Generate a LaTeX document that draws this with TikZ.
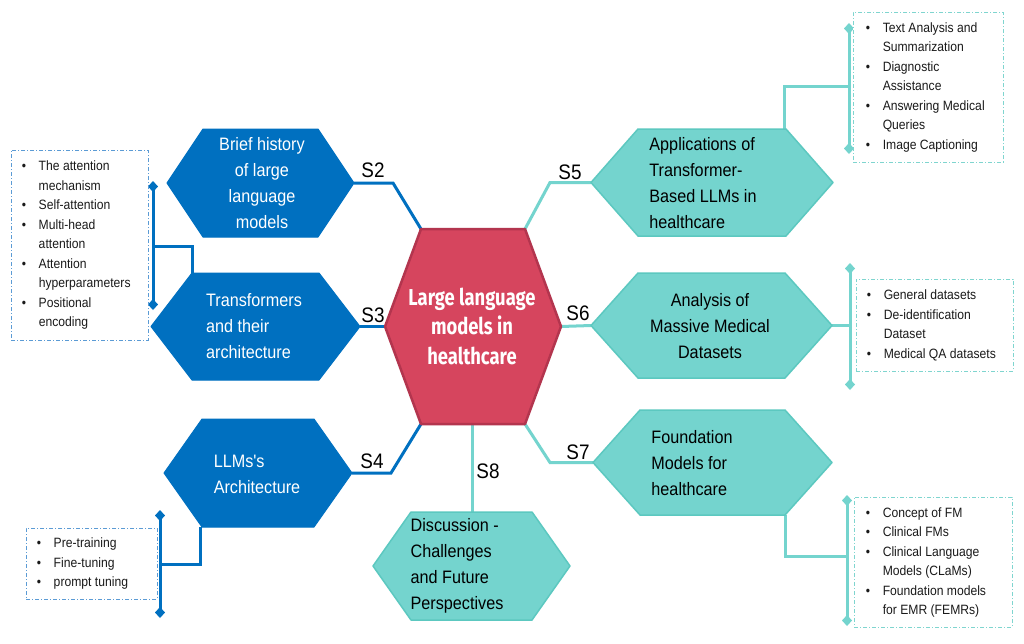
\documentclass[tikz,border=0pt]{standalone}
\usepackage{fontspec}
\setmainfont{Liberation Sans}
\newfontfamily\nfont[FakeStretch=0.9]{Liberation Sans}
\newfontfamily\centerfont[FakeStretch=0.8]{Fira Sans}
\usetikzlibrary{arrows.meta}
\definecolor{hblue}{HTML}{0070C0}
\definecolor{hteal}{HTML}{74D4CE}
\definecolor{hteald}{HTML}{5CC8C0}
\definecolor{hred}{HTML}{D6455E}
\definecolor{hredd}{HTML}{B3354E}
\definecolor{boxblue}{HTML}{5B9BD5}
\definecolor{boxteal}{HTML}{7FD5CF}
\definecolor{ltext}{HTML}{1A1A1A}
\newcommand{\hexa}[7]{%
  \path[#2] (#3,{(#6+#7)/2}) coordinate (#1-l) -- (#3+#4,#6) coordinate (#1-tl)
   -- (#5-#4,#6) coordinate (#1-tr) -- (#5,{(#6+#7)/2}) coordinate (#1-r)
   -- (#5-#4,#7) coordinate (#1-br) -- (#3+#4,#7) coordinate (#1-bl) -- cycle;}
\newcommand{\bl}{\makebox[17pt][l]{\textbullet}}
\newcommand{\ind}{\hspace*{17pt}}
\begin{document}
\begin{tikzpicture}[x=1pt,y=-1pt,
  hexblue/.style={fill=hblue,draw=hblue,line width=1pt,line join=round},
  hexteal/.style={fill=hteal,draw=hteald,line width=1.5pt,line join=round},
  hexred/.style={fill=hred,draw=hredd,line width=2.5pt,line join=round},
  conB/.style={draw=hblue,line width=3pt},
  conT/.style={draw=hteal,line width=3pt},
  brB/.style={draw=hblue,line width=3pt,{Diamond[length=11pt,width=10pt]}-{Diamond[length=11pt,width=10pt]}},
  brT/.style={draw=hteal,line width=3pt,{Diamond[length=11pt,width=10pt]}-{Diamond[length=11pt,width=10pt]}},
  wtext/.style={text=white,font=\nfont\fontsize{18}{26}\selectfont,inner sep=0pt},
  ktext/.style={text=black,font=\nfont\fontsize{18}{26}\selectfont,inner sep=0pt},
  slabel/.style={text=black,font=\nfont\fontsize{21}{22}\selectfont,inner sep=0pt},
  boxB/.style={draw=boxblue,line width=0.9pt,dash pattern=on 4pt off 2pt on 1pt off 2pt,inner sep=0pt,fill=white},
  boxT/.style={draw=boxteal,line width=0.9pt,dash pattern=on 4pt off 2pt on 1pt off 2pt,inner sep=0pt,fill=white},
  listtext/.style={text=ltext,font=\nfont\fontsize{13.5}{19.5}\selectfont,inner sep=0pt,anchor=west}]
\useasboundingbox (0,0) rectangle (1024,643);
\fill[white] (0,0) rectangle (1024,643);

% hexagon geometry (coordinates only, drawn later)
\hexa{h2}{}{167}{36}{354}{129}{237}
\hexa{h3}{}{151}{41}{360}{273}{380}
\hexa{h4}{}{164}{38}{352}{419}{527}
\hexa{h5}{}{591}{47}{833}{129}{236}
\hexa{h6}{}{591}{47}{832}{273}{378}
\hexa{h7}{}{593}{47}{832}{410}{515}
\hexa{h8}{}{373}{38}{570}{512}{620}
\hexa{hc}{}{385}{36}{561}{229}{424}

% connectors
\draw[conB] (h2-r) -- ++(39,0) -- (hc-tl);
\draw[conB] (h3-r) -- (hc-l);
\draw[conB] (h4-r) -- ++(39,0) -- (hc-bl);
\draw[conT] (h5-l) -- ++(-41,0) -- (hc-tr);
\draw[conT] (h6-l) -- (hc-r);
\draw[conT] (h7-l) -- ++(-43,0) -- (hc-br);
\draw[conT] (hc-bl) ++(51,0) coordinate (hc-b) -- (hc-b |- h8-tl);

% brackets
\coordinate (k3a) at (153,181); \coordinate (k3b) at (153,310);
\draw[brB] (k3a) -- (k3b);
\draw[conB] (153,246) -| (h3-tl);
\coordinate (k4a) at (160,510); \coordinate (k4b) at (160,618);
\draw[brB] (k4a) -- (k4b);
\draw[conB] (160,564) -| ([xshift=-2]h4-bl);
\coordinate (k5a) at (849,23); \coordinate (k5b) at (849,154);
\draw[brT] (k5a) -- (k5b);
\draw[conT] ([xshift=-2]h5-tr) |- (849,86);
\coordinate (k6a) at (850,263); \coordinate (k6b) at (850,390);
\draw[brT] (k6a) -- (k6b);
\draw[conT] (h6-r) -- (h6-r -| k6a);
\coordinate (k7a) at (847,495); \coordinate (k7b) at (847,626);
\draw[brT] (k7a) -- (k7b);
\draw[conT] (h7-br) |- (847,556);

% hexagons
\hexa{h2}{hexblue}{167}{36}{354}{129}{237}
\hexa{h3}{hexblue}{151}{41}{360}{273}{380}
\hexa{h4}{hexblue}{164}{38}{352}{419}{527}
\hexa{h5}{hexteal}{591}{47}{833}{129}{236}
\hexa{h6}{hexteal}{591}{47}{832}{273}{378}
\hexa{h7}{hexteal}{593}{47}{832}{410}{515}
\hexa{h8}{hexteal}{373}{38}{570}{512}{620}
\hexa{hc}{hexred}{385}{36}{561}{229}{424}

% hexagon texts
\node[wtext,align=center] (t2) at (262,183) {Brief history\\of large\\language\\models};
\node[wtext,align=left] (t3) at (254,326) {Transformers\\and their\\architecture};
\node[wtext,align=left] (t4) at (257,474) {LLMs's\\Architecture};
\node[ktext,align=left] (t5) at (703,183) {Applications of\\Transformer-\\Based LLMs in\\healthcare};
\node[ktext,align=center] (t6) at (710,326) {Analysis of\\Massive Medical\\Datasets};
\node[ktext,align=left] (t7) at (692,463) {Foundation\\Models for\\healthcare};
\node[ktext,align=left] (t8) at (457,566) {Discussion -\\Challenges\\and Future\\Perspectives};
\node[text=white,align=center,inner sep=0pt,font=\centerfont\bfseries\fontsize{23}{29.5}\selectfont] (tc) at (472,326) {Large language\\models in\\healthcare};

% section labels
\node[slabel] (s2) at (373,170) {S2};
\node[slabel] (s3) at (373,315) {S3};
\node[slabel] (s4) at (372,461) {S4};
\node[slabel] (s5) at (570,172) {S5};
\node[slabel] (s6) at (578,313) {S6};
\node[slabel] (s7) at (578,452) {S7};
\node[slabel] (s8) at (488,471) {S8};

% list boxes
\node[boxB,minimum width=137,minimum height=190] (l3) at (79.5,245) {};
\node[listtext] (l3t) at ([xshift=11]l3.west) {\begin{tabular}{@{}l@{}}
\bl The attention\\ \ind mechanism\\ \bl Self-attention\\ \bl Multi-head\\ \ind attention\\
\bl Attention\\ \ind hyperparameters\\ \bl Positional\\ \ind encoding\end{tabular}};

\node[boxB,minimum width=131,minimum height=71] (l4) at (91.5,563.5) {};
\node[listtext] (l4t) at ([xshift=11]l4.west) {\begin{tabular}{@{}l@{}}
\bl Pre-training\\ \bl Fine-tuning\\ \bl prompt tuning\end{tabular}};

\node[boxT,minimum width=150,minimum height=150] (l5) at (928,87) {};
\node[listtext] (l5t) at ([xshift=13]l5.west) {\begin{tabular}{@{}l@{}}
\bl Text Analysis and\\ \ind Summarization\\ \bl Diagnostic\\ \ind Assistance\\
\bl Answering Medical\\ \ind Queries\\ \bl Image Captioning\end{tabular}};

\node[boxT,minimum width=157,minimum height=92] (l6) at (934.5,325) {};
\node[listtext] (l6t) at ([xshift=11]l6.west) {\begin{tabular}{@{}l@{}}
\bl General datasets\\ \bl De-identification\\ \ind Dataset\\ \bl Medical QA datasets\end{tabular}};

\node[boxT,minimum width=158,minimum height=130] (l7) at (933,562) {};
\node[listtext] (l7t) at ([xshift=12]l7.west) {\begin{tabular}{@{}l@{}}
\bl Concept of FM\\ \bl Clinical FMs\\ \bl Clinical Language\\ \ind Models (CLaMs)\\
\bl Foundation models\\ \ind for EMR (FEMRs)\end{tabular}};
\end{tikzpicture}
\end{document}
